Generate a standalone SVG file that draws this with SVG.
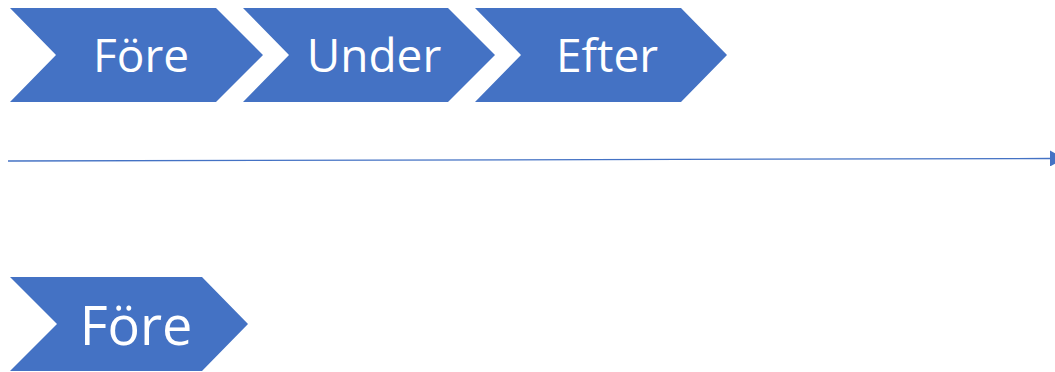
<svg xmlns="http://www.w3.org/2000/svg" width="1055" height="372" viewBox="0 0 1055 372">
<style>
.chev{fill:#4472C4;}
.lbl{fill:#fff;font-family:"Open Sans","Noto Sans",sans-serif;text-anchor:middle;}
.conn{stroke:#4472C4;stroke-width:1.3;fill:none;}
</style>
<defs>
<marker id="ah" markerWidth="14" markerHeight="16" refX="0" refY="8" orient="auto" markerUnits="userSpaceOnUse">
<path d="M0,0 L14,8 L0,16 Z" fill="#4472C4"/>
</marker>
</defs>
<g id="node-fore">
<polygon class="chev" points="10,8 216,8 263,55 216,102 10,102 56,55"/>
<text class="lbl" x="141" y="72" font-size="46">Före</text>
</g>
<g id="node-under">
<polygon class="chev" points="243,8 448,8 495,55 448,102 243,102 289,55"/>
<text class="lbl" x="374" y="72" font-size="46">Under</text>
</g>
<g id="node-efter">
<polygon class="chev" points="475,8 681,8 727,55 681,102 475,102 521,55"/>
<text class="lbl" x="607" y="72" font-size="46">Efter</text>
</g>
<g id="node-fore2">
<polygon class="chev" points="10,277 202,277 248,324 202,371 10,371 57,324"/>
<text class="lbl" x="136" y="345" font-size="54">Före</text>
</g>
<g id="connectors">
<line class="conn" x1="8" y1="161" x2="1050" y2="158.5" marker-end="url(#ah)"/>
</g>
</svg>
